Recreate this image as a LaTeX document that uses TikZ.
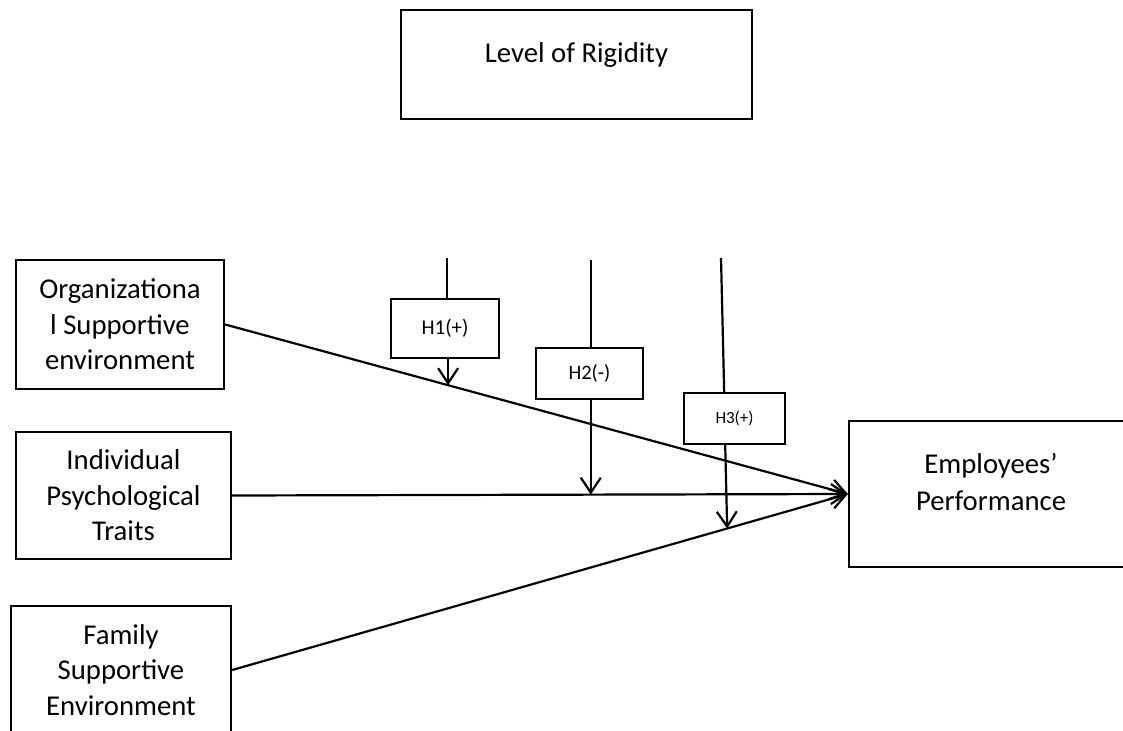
\documentclass[tikz,border=0pt]{standalone}
\usepackage{fontspec}
\setmainfont{Carlito}
\usetikzlibrary{arrows.meta,calc}
\begin{document}
\begin{tikzpicture}[x=1pt,y=-1pt,
  box/.style={draw,line width=2.3pt,rectangle,inner sep=0pt,align=center,font=\fontsize{28.7}{35.5}\selectfont},
  hbox/.style={draw,line width=2.3pt,rectangle,inner sep=0pt},
  link/.style={line width=2.2pt},
  arr/.style={link,-{Straight Barb[length=15pt,width=20pt]}},
  lbl/.style={font=\fontsize{28.7}{36.5}\selectfont,align=center,inner sep=0pt}]
\useasboundingbox (0,0) rectangle (1123,730);
\clip (0,0) rectangle (1123,730);
% top box
\node[box,minimum width=351pt,minimum height=109pt] (lr) at (576.5,64.5) {};
\node[lbl,anchor=base] (lrt) at (576.5,63) {Level of Rigidity};
% left boxes
\node[box,minimum width=208pt,minimum height=129pt] (org) at (120,324.5) {Organizationa\\l Supportive\\environment};
\node[box,minimum width=215pt,minimum height=127pt] (ind) at (123.5,495.5) {Individual\\Psychological\\Traits};
\node[box,minimum width=220pt,minimum height=128pt] (fam) at (121,670) {Family\\Supportive\\Environment};
% right box
\node[box,minimum width=286pt,minimum height=146pt] (emp) at (992,494) {};
\node[lbl] (empt) at (991,482) {Employees’\\Performance};
% hypothesis boxes
\node[hbox,minimum width=108pt,minimum height=59pt,font=\fontsize{21}{25}\selectfont] (h1) at (445,328.5) {H1(+)};
\node[hbox,minimum width=107pt,minimum height=51pt,font=\fontsize{20.5}{25}\selectfont] (h2) at (589.5,373.5) {H2(-)};
\node[hbox,minimum width=101pt,minimum height=51pt,font=\fontsize{17}{21}\selectfont] (h3) at (734.5,418.5) {H3(+)};
% main paths
\draw[arr] (org.east) -- (emp.west);
\draw[arr] (ind.east) -- (emp.west);
\draw[arr] (fam.east) -- (emp.west);
% moderator paths
\coordinate (t1) at (447,258);
\coordinate (t2) at (591,260);
\coordinate (t3) at (721,258);
\coordinate (p1) at ($(org.east)!0.358!(emp.west)$);
\coordinate (p2) at ($(ind.east)!0.5825!(emp.west)$);
\coordinate (p3) at ($(fam.east)!0.804!(emp.west)$);
\draw[link] (t1) -- (t1 |- h1.north);
\draw[arr] (h1.south -| p1) -- (p1);
\draw[link] (t2) -- (t2 |- h2.north);
\draw[arr] (h2.south -| p2) -- (p2);
\draw[link] (t3) -- ($(h3.north west)!0.4!(h3.north east)$);
\draw[arr] ($(h3.south west)!0.41!(h3.south east)$) -- (p3);
\end{tikzpicture}
\end{document}
